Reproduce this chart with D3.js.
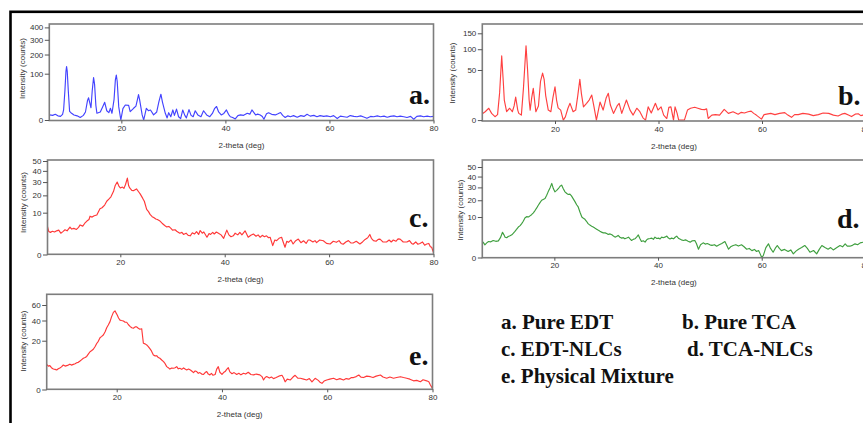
<!DOCTYPE html>
<html>
<head>
<meta charset="utf-8">
<title>XRD patterns</title>
<style>
  body { margin: 0; background: #fff; }
  svg { display: block; }
  .tick text { font-family: "Liberation Sans", Arial, sans-serif; font-size: 8px; fill: #333; }
  .axis-title { font-family: "Liberation Sans", Arial, sans-serif; font-size: 8px; fill: #333; }
  .letter { font-family: "Liberation Serif", "Times New Roman", serif; font-weight: bold; font-size: 28px; fill: #111; }
  .legend { font-family: "Liberation Serif", "Times New Roman", serif; font-weight: bold; font-size: 21px; fill: #111; }
</style>
</head>
<body>
<div id="chart"></div>
<script src="https://d3js.org/d3.v7.min.js"></script>
<script>

// ---- data: [2-theta (deg), intensity (counts)] ----
const xTicks = [20, 40, 60, 80];
const yTicksA = [0, 100, 200, 300, 400];
const yTicksB = [0, 50, 100, 150];
const yTicksC = [0, 10, 20, 30, 40, 50];
const yTicksD = [0, 10, 20, 30, 40, 50];
const yTicksE = [0, 20, 40, 60];

const pureEDT = [
  [6.2,1.2],[6.8,1.0],[7.3,1.5],[7.8,0.8],[8.3,0.6],[8.7,1.5],[8.9,4.7],[9.15,40],[9.35,110],[9.47,133],
  [9.6,110],[9.8,40],[10.05,3.5],[10.3,2.5],[10.5,2.0],[10.9,1.2],[11.5,0.8],[12.1,0.3],[12.7,1.0],[13.1,3],
  [13.5,18],[13.7,23],[13.9,15],[14.16,7],[14.4,40],[14.66,84],[14.85,60],[15.1,10],[15.3,2.1],[15.95,3],
  [16.4,8],[16.8,14.6],[17.2,4],[17.6,2.5],[17.9,6.4],[18.2,2.1],[18.6,20],[18.85,75],[19.03,94],[19.2,70],
  [19.5,8],[19.9,0],[20.3,6],[20.76,10.5],[21.4,10],[21.7,3.2],[22.35,6.4],[22.8,9],[23.1,20],[23.3,30],
  [23.5,20],[24.0,1.2],[24.3,0],[24.8,6.4],[25.2,4],[25.6,4.7],[26.2,1.2],[26.8,3],[27.2,15],[27.6,31],
  [27.9,15],[28.45,2.1],[28.8,0.2],[29.1,2.5],[29.5,0.5],[29.9,4.7],[30.2,1],[30.6,5.5],[31.0,0.5],[31.4,0.1],
  [31.8,4.7],[32.2,1],[32.5,0.2],[33.0,5],[33.4,1],[33.8,0.5],[34.2,4],[34.7,1.2],[35.3,0.5],[35.8,4],
  [36.4,1.2],[37.0,0.5],[37.5,2],[37.9,6],[38.3,8.5],[38.7,3],[39.2,1.2],[39.7,2],[40.2,4.7],[40.6,1.5],
  [40.95,0.5],[41.4,0.3],[41.9,0.05],[42.4,0.9],[42.9,1.2],[43.5,1.0],[44.2,2.1],[44.7,1.6],[45.1,4.7],[45.8,1.2],
  [46.2,1.6],[46.7,1.2],[47.1,0.6],[47.4,0.03],[47.9,1.8],[48.3,2.4],[48.9,1.5],[49.6,1.2],[50.1,1.8],[50.6,2.6],
  [51.0,1.0],[51.5,0.3],[52.0,0.8],[52.5,0.5],[53.1,0.9],[53.8,0.35],[54.5,0.9],[55.1,0.6],[55.7,1.5],[56.3,0.7],
  [57.0,1.0],[57.6,0.5],[58.2,0.9],[58.9,0.6],[59.5,0.8],[60.2,0.5],[60.8,0.9],[61.5,0.1],[62.1,0.7],[62.8,0.5],
  [63.4,0.35],[64.0,0.9],[64.7,0.6],[65.3,0.5],[66.0,0.8],[66.6,0.4],[67.2,0.13],[67.9,0.6],[68.5,0.5],[69.2,0.8],
  [69.8,0.5],[70.5,0.7],[71.1,0.35],[71.7,0.6],[72.4,0.8],[73.0,0.5],[73.6,0.7],[74.3,0.5],[74.9,0.3],[75.6,0.6],
  [76.2,0.03],[76.8,0.6],[77.5,0.8],[78.1,0.5],[78.8,0.7],[79.4,0.5],[80.0,0.6]
];

const pureTCA = [
  [5.96,0.8],[6.5,1.4],[7.2,2.8],[7.75,0.9],[8.4,0.23],[8.9,0.6],[9.3,15],[9.7,82],[10.0,30],[10.2,8],
  [10.65,1.4],[11.24,2.8],[11.75,1.4],[12.1,4],[12.4,10.5],[12.8,2],[13.0,0.9],[13.5,0.5],[13.9,20],[14.4,110],
  [14.7,50],[15.0,8],[15.2,2],[15.5,10],[15.8,20],[16.1,6],[16.3,1.4],[16.8,4],[17.2,30],[17.6,44],
  [17.9,33],[18.2,12],[18.7,2.0],[19.2,1.4],[19.6,10],[20.0,22],[20.3,8],[20.6,3],[21.1,2],[21.6,0],
  [22.0,0.2],[22.5,2.8],[22.9,5.6],[23.5,1.4],[24.0,2],[24.4,12],[24.8,33],[25.1,14],[25.5,3.5],[26.1,5.6],
  [26.6,8],[27.1,12.5],[27.5,4],[28.0,0],[28.7,6.5],[29.3,2.0],[29.9,10],[30.3,14.3],[30.7,4.5],[31.3,0.9],
  [32.0,4],[32.4,5.6],[32.9,0.9],[33.4,4],[33.8,8],[34.5,2],[35.1,0.5],[35.8,2.8],[36.4,1.4],[37.0,0.1],
  [37.5,0],[38.0,3.5],[38.6,1],[39.4,5.6],[39.9,2.0],[40.5,3.5],[41.0,0.5],[41.6,0.05],[42.0,3.2],[42.4,3.5],
  [42.9,0],[43.2,3.5],[43.6,0.9],[43.9,0],[45.0,0],[45.6,2.0],[46.2,2.8],[47.0,3.3],[47.6,2.8],[48.3,2.3],
  [48.9,2.2],[49.3,2.5],[49.6,0.05],[50.3,0.5],[51.0,0.6],[51.8,0.5],[52.7,2.3],[53.5,0.9],[54.4,1.4],[55.4,0.7],
  [56.0,1.2],[56.6,1.0],[57.3,1.4],[57.9,1.6],[58.4,0.9],[58.9,0.5],[59.9,0.02],[60.4,0.6],[60.9,0.7],[61.7,0.9],
  [62.5,0.6],[63.4,0.9],[64.4,1.1],[65.0,0.5],[65.7,0.15],[66.3,0.6],[67.0,0.6],[67.9,0.9],[69.0,0.7],[69.9,0.4],
  [70.9,0.6],[71.8,1.0],[72.9,0.9],[73.8,0.5],[74.7,0.33],[75.4,0.7],[76.0,0.9],[76.7,0.5],[77.3,0.25],[78.0,0.7],
  [78.6,0.8],[79.1,0.4],[79.5,0.5],[80.0,0.6]
];

const edtNLC = [
  [6.05,4.4],[6.3,3.0],[6.6,2.8],[7.0,3.1],[7.4,2.9],[7.8,3.2],[8.2,3.4],[8.6,2.6],[9.0,3.0],[9.4,3.5],
  [9.8,3.2],[10.35,4.3],[10.7,3.7],[11.1,3.9],[11.6,3.6],[12.0,4.2],[12.3,5.0],[12.8,4.6],[13.2,5.6],[13.6,6.4],
  [14.0,7.0],[14.2,8.4],[14.6,8.0],[15.0,8.6],[15.5,8.9],[16.1,12],[16.5,12.5],[17.0,14],[17.4,16.2],[17.8,17.5],
  [18.2,19],[18.7,22.8],[19.0,27],[19.4,30],[19.7,27],[20.0,25.3],[20.4,26],[20.7,25],[21.0,28],[21.35,33.4],
  [21.6,27],[21.8,25.3],[22.2,23.5],[22.5,23.3],[23.1,24.6],[23.5,22.5],[23.8,21],[24.3,18],[24.6,16.2],[25.05,11.6],
  [25.4,10.5],[25.7,9.2],[26.1,8.2],[26.4,7.8],[26.8,7.2],[27.1,7.0],[27.6,6.4],[28.0,5.6],[28.5,4.8],[28.9,4.35],
  [29.3,4.5],[29.7,3.9],[30.0,3.4],[30.5,3.5],[30.8,3.1],[31.4,2.6],[31.8,2.8],[32.1,2.3],[32.6,2.6],[33.0,2.1],
  [33.4,2.0],[33.8,2.7],[34.2,2.4],[34.6,3.0],[35.0,2.3],[35.3,3.3],[35.7,2.6],[36.0,2.9],[36.6,1.7],[37.0,2.5],
  [37.3,2.3],[37.7,2.8],[38.0,2.4],[38.4,2.9],[38.8,2.6],[39.3,2.2],[39.8,1.5],[40.4,3.4],[40.8,2.2],[41.2,1.8],
  [41.65,2.0],[42.0,2.6],[42.5,2.2],[42.9,2.8],[43.3,2.2],[43.9,3.2],[44.5,1.7],[45.0,2.1],[45.5,2.4],[46.0,1.9],
  [46.4,2.2],[46.8,1.7],[47.2,2.1],[47.6,1.8],[48.0,2.0],[48.4,1.6],[48.7,1.7],[49.2,0.45],[49.6,1.2],[49.95,1.1],
  [50.4,1.5],[50.9,1.7],[51.2,0.9],[51.55,0.3],[51.9,1.0],[52.2,0.85],[52.7,1.2],[53.1,0.63],[53.6,1.1],[54.1,1.36],
  [54.6,0.8],[55.1,1.08],[55.6,0.7],[56.0,1.2],[56.3,1.2],[56.9,0.9],[57.3,1.1],[57.6,0.8],[58.2,1.2],[58.9,1.08],
  [59.5,0.7],[60.2,0.63],[60.8,1.0],[61.4,0.85],[61.9,1.1],[62.3,0.7],[62.7,0.6],[63.2,0.9],[63.7,1.1],[64.2,0.75],
  [64.6,0.75],[65.2,1.0],[65.9,0.63],[66.4,0.9],[66.9,1.3],[67.4,1.6],[67.8,2.3],[68.1,1.5],[68.5,1.1],[69.0,1.0],
  [69.4,1.3],[69.75,1.36],[70.3,0.9],[71.0,0.9],[71.5,1.2],[71.9,0.9],[72.3,1.2],[72.8,1.0],[73.2,1.4],[73.6,1.36],
  [74.2,0.9],[74.9,0.9],[75.4,1.1],[75.8,0.7],[76.1,0.6],[76.6,0.9],[77.0,0.6],[77.4,0.7],[77.9,0.9],[78.3,0.5],
  [78.7,0.63],[79.1,0.7],[79.4,0.35],[79.65,0.3],[80.0,0.02]
];

const tcaNLC = [
  [6.1,1.6],[6.35,1.3],[6.6,0.98],[6.95,1.3],[7.3,1.56],[7.75,1.5],[8.2,1.77],[8.7,1.6],[9.2,1.7],[9.6,2.4],
  [10.0,3.9],[10.25,3.2],[10.5,2.5],[10.8,2.4],[11.1,2.7],[11.45,2.9],[11.8,3.15],[12.1,3.6],[12.4,4.15],[12.7,4.8],
  [13.05,5.66],[13.4,6.2],[13.7,7.0],[14.0,8.0],[14.35,9.7],[14.7,10.2],[15.0,10],[15.3,10.6],[15.6,11.2],[15.95,12.2],
  [16.3,13.6],[16.6,15.0],[16.9,16.7],[17.2,18.2],[17.55,20],[17.85,20.6],[18.2,21.2],[18.5,23.5],[18.8,26.3],[19.2,30],
  [19.5,33.5],[19.8,29],[20.1,26.3],[20.45,27.5],[20.8,29.1],[21.1,31],[21.4,32],[21.7,29],[22.05,26.3],[22.4,25],
  [22.7,24.2],[23.0,24.5],[23.3,23.2],[23.65,21],[24.0,18.9],[24.3,17],[24.6,15.6],[24.95,12.5],[25.3,10],[25.6,9.4],
  [25.9,8.9],[26.2,8.0],[26.5,7.0],[26.85,6.4],[27.2,6.0],[27.5,5.7],[27.8,5.3],[28.15,4.9],[28.5,4.5],[28.8,4.2],
  [29.1,3.93],[29.45,3.7],[29.8,3.7],[30.1,3.5],[30.4,3.25],[30.75,3.4],[31.1,3.15],[31.4,2.8],[31.7,2.53],[32.0,2.7],
  [32.3,2.97],[32.65,2.5],[33.0,2.29],[33.3,2.4],[33.6,2.13],[33.95,2.3],[34.3,2.53],[34.6,2.1],[34.9,1.77],[35.2,2.0],
  [35.55,2.13],[35.9,2.6],[36.2,3.1],[36.5,2.2],[36.8,1.56],[37.15,1.7],[37.5,1.44],[37.8,1.9],[38.1,2.13],[38.45,2.2],
  [38.8,2.29],[39.1,2.0],[39.4,2.53],[39.75,2.2],[40.1,2.29],[40.4,2.1],[40.7,2.53],[41.0,2.4],[41.3,2.53],[41.7,2.79],
  [42.0,2.3],[42.3,2.1],[42.6,2.29],[43.0,2.13],[43.3,2.5],[43.6,2.79],[44.0,2.2],[44.5,1.9],[44.9,1.77],[45.3,1.9],
  [45.8,1.6],[46.2,1.44],[46.6,1.7],[47.1,1.77],[47.4,1.2],[47.8,0.42],[48.2,1.0],[48.7,1.31],[49.1,1.1],[49.5,1.2],
  [50.0,0.98],[50.4,0.9],[50.9,1.0],[51.3,0.78],[51.8,1.0],[52.3,1.2],[52.9,1.56],[53.2,1.0],[53.6,0.42],[54.0,0.7],
  [54.5,0.88],[55.0,1.0],[55.5,0.8],[56.1,0.98],[56.6,0.7],[57.1,0.42],[57.6,0.5],[58.1,0.29],[58.6,0.4],[59.0,0.22],
  [59.4,0.3],[59.7,0.08],[60.0,0.0],[60.3,0.02],[60.8,0.6],[61.3,1.14],[61.7,0.5],[62.2,0.17],[62.6,0.5],[63.0,0.88],
  [63.4,0.5],[63.8,0.29],[64.4,0.4],[65.1,0.22],[65.6,0.35],[66.1,0.08],[66.6,0.25],[67.1,0.42],[67.7,0.6],[68.3,0.88],
  [68.8,0.5],[69.3,0.17],[70.0,0.3],[70.6,0.08],[71.1,0.4],[71.6,0.88],[72.2,0.6],[72.8,0.42],[73.3,0.6],[73.8,0.35],
  [74.5,0.6],[75.1,0.88],[75.6,0.7],[76.1,1.14],[76.5,0.8],[77.0,0.78],[77.5,0.9],[78.0,1.14],[78.5,1.0],[79.0,1.31],
  [79.6,1.44],[80.0,1.2]
];

const physicalMix = [
  [6.69,5.3],[7.0,4.6],[7.3,4.8],[7.6,4.0],[7.96,3.55],[8.3,3.4],[8.6,3.2],[8.9,3.6],[9.2,3.9],[9.5,4.3],
  [9.86,5.05],[10.2,4.6],[10.5,4.8],[10.8,5.0],[11.1,5.4],[11.4,5.0],[11.76,5.3],[12.1,5.6],[12.4,6.0],[12.7,6.2],
  [13.03,6.8],[13.3,7.4],[13.66,8.2],[14.0,8.6],[14.3,9.2],[14.6,10.5],[14.93,12.0],[15.2,12.6],[15.56,13.6],[15.9,15.5],
  [16.2,17.8],[16.5,19.5],[16.83,22.5],[17.1,23.5],[17.46,25],[17.8,28],[18.1,32],[18.4,35],[18.73,38.7],[19.0,44],
  [19.37,50],[19.68,52],[19.9,49],[20.1,46.7],[20.35,43],[20.63,40.5],[20.9,40],[21.27,39.5],[21.6,38],[21.9,38],
  [22.2,35.5],[22.53,33.5],[22.85,32],[23.17,31.5],[23.5,33],[23.8,33],[24.1,31.5],[24.4,30.5],[24.75,31],[25.07,18],
  [25.4,17.5],[25.7,16.7],[26.0,15.5],[26.3,14],[26.6,12.5],[26.97,10],[27.3,9.5],[27.6,9.6],[27.9,8.6],[28.2,8.2],
  [28.55,7.3],[28.9,6.5],[29.2,5.6],[29.5,4.4],[29.8,4.0],[30.1,3.5],[30.45,3.9],[30.8,3.8],[31.1,4.0],[31.4,4.4],
  [31.7,3.6],[32.0,3.8],[32.35,3.4],[32.7,3.9],[33.0,3.5],[33.3,3.2],[33.65,3.5],[34.0,3.2],[34.3,2.8],[34.6,2.4],
  [34.9,2.9],[35.2,2.7],[35.5,2.2],[35.8,2.4],[36.15,2.0],[36.5,1.9],[36.8,2.4],[37.1,2.7],[37.4,2.0],[37.7,1.8],
  [38.0,2.2],[38.3,1.7],[38.7,1.9],[39.0,3.5],[39.3,4.4],[39.6,2.5],[40.0,1.9],[40.3,2.4],[40.6,2.7],[40.9,3.4],
  [41.2,4.0],[41.5,2.6],[41.9,2.1],[42.3,2.4],[42.8,1.9],[43.2,2.2],[43.6,1.8],[44.1,2.2],[44.5,2.0],[45.0,2.5],
  [45.5,1.9],[46.0,1.8],[46.5,2.0],[47.2,1.8],[47.6,1.4],[47.9,0.76],[48.2,1.2],[48.5,1.4],[49.0,1.1],[49.4,1.3],
  [49.8,1.0],[50.3,1.2],[50.8,1.5],[51.4,1.7],[51.7,1.1],[52.0,0.5],[52.4,0.9],[53.0,0.76],[53.5,1.3],[53.9,1.7],
  [54.4,1.1],[54.9,1.06],[55.5,0.9],[56.1,0.76],[56.6,1.0],[57.1,0.5],[57.7,1.06],[58.3,0.7],[58.7,0.4],[59.0,0.32],
  [59.4,0.6],[59.9,0.76],[60.5,0.9],[61.2,1.06],[61.8,0.8],[62.4,1.0],[63.1,0.76],[63.6,1.0],[64.1,0.9],[64.6,1.2],
  [65.0,1.2],[65.5,1.4],[66.0,1.77],[66.4,1.3],[66.9,1.2],[67.5,1.5],[68.2,1.38],[68.7,1.2],[69.3,1.5],[70.1,1.77],
  [70.6,1.3],[71.3,1.06],[71.9,1.3],[72.6,1.06],[73.2,1.2],[73.9,1.38],[74.5,1.2],[75.1,1.06],[75.7,0.9],[76.4,0.63],
  [77.0,0.7],[77.7,0.51],[78.2,0.8],[78.9,0.63],[79.3,0.5],[79.6,0.17],[80.0,0.01]
];

const panelLetters = ['a.', 'b.', 'c.', 'd.', 'e.'];
const legendLabels = ['a. Pure EDT', 'b. Pure TCA', 'c. EDT-NLCs', 'd. TCA-NLCs', 'e. Physical Mixture'];
const xTitle = '2-theta (deg)';
const yTitle = 'Intensity (counts)';

// ---- layout ----
const W = 863, H = 423;
const panels = [
  { data: pureEDT, yTicks: yTicksA, color: '#4343ff', x0: 6.15, left: 49.3, right: 433.5, top: 24, bottom: 120.5,
    yZero: 120, yTop: 27.4, yTitleX: 21.7, yTitleY: 68.5, letterX: 409, letterY: 104 },
  { data: pureTCA, yTicks: yTicksB, color: '#ff4040', x0: 5.95, left: 482.3, right: 865.5, top: 24, bottom: 121,
    yZero: 120.1, yTop: 33.3, yTitleX: 451.7, yTitleY: 73, letterX: 838, letterY: 105 },
  { data: edtNLC, yTicks: yTicksC, color: '#ff3838', x0: 6.05, left: 47.5, right: 433.5, top: 160, bottom: 254.3,
    yZero: 254.5, yTop: 161, yTitleX: 23.3, yTitleY: 202.5, letterX: 409, letterY: 227 },
  { data: tcaNLC, yTicks: yTicksD, color: '#3f9f3f', x0: 6.1, left: 482.3, right: 865.4, top: 160, bottom: 257.7,
    yZero: 257.5, yTop: 167, yTitleX: 460, yTitleY: 210, letterX: 837, letterY: 228 },
  { data: physicalMix, yTicks: yTicksE, color: '#ff3838', x0: 6.7, left: 46.7, right: 432.5, top: 294.3, bottom: 389.3,
    yZero: 389.5, yTop: 305, yTitleX: 23.3, yTitleY: 341, letterX: 409, letterY: 365 }
];
const legendPos = [[501, 329], [682, 329], [501, 356], [687, 356], [501, 383]];

const svg = d3.select('#chart')
  .append('svg')
  .attr('width', W)
  .attr('height', H);

// black outer border, only its top and left sides fall inside the picture
svg.append('rect')
  .attr('x', 10.5).attr('y', 11.8)
  .attr('width', 1000).attr('height', 600)
  .attr('fill', 'none')
  .attr('stroke', '#000')
  .attr('stroke-width', 2.6);

panels.forEach((p, i) => {
  const x = d3.scaleLinear().domain([p.x0, 80]).range([p.left, p.right]);
  const y = d3.scaleSqrt().domain([0, p.yTicks[p.yTicks.length - 1]]).range([p.yZero, p.yTop]);
  const g = svg.append('g');

  g.append('clipPath').attr('id', 'clip' + i)
    .append('rect')
    .attr('x', p.left).attr('y', p.top)
    .attr('width', p.right - p.left).attr('height', p.bottom - p.top);

  const line = d3.line().x(d => x(d[0])).y(d => y(d[1]));
  g.append('path')
    .datum(p.data)
    .attr('clip-path', `url(#clip${i})`)
    .attr('fill', 'none')
    .attr('stroke', p.color)
    .attr('stroke-width', 1.15)
    .attr('stroke-linejoin', 'round')
    .attr('d', line);

  // plot frame
  g.append('rect')
    .attr('x', p.left).attr('y', p.top)
    .attr('width', p.right - p.left).attr('height', p.bottom - p.top)
    .attr('fill', 'none')
    .attr('stroke', '#7d7d7d')
    .attr('stroke-width', 1.6);

  g.append('g')
    .attr('transform', `translate(0,${p.bottom})`)
    .attr('color', '#555')
    .call(d3.axisBottom(x).tickValues(xTicks).tickSize(3).tickSizeOuter(0).tickPadding(2))
    .call(a => a.select('.domain').remove());

  g.append('g')
    .attr('transform', `translate(${p.left},0)`)
    .attr('color', '#555')
    .call(d3.axisLeft(y).tickValues(p.yTicks).tickSize(4.5).tickSizeOuter(0).tickPadding(1.5))
    .call(a => a.select('.domain').remove());

  g.append('text')
    .attr('class', 'axis-title')
    .attr('x', (p.left + p.right) / 2)
    .attr('y', p.bottom + 27.5)
    .attr('text-anchor', 'middle')
    .text(xTitle);

  g.append('text')
    .attr('class', 'axis-title')
    .attr('transform', `translate(${p.yTitleX},${p.yTitleY}) rotate(-90)`)
    .attr('text-anchor', 'middle')
    .attr('dy', '0.35em')
    .text(yTitle);

  g.append('text')
    .attr('class', 'letter')
    .attr('x', p.letterX)
    .attr('y', p.letterY)
    .text(panelLetters[i]);
});

svg.append('g')
  .selectAll('text')
  .data(legendLabels)
  .join('text')
  .attr('class', 'legend')
  .attr('x', (d, i) => legendPos[i][0])
  .attr('y', (d, i) => legendPos[i][1])
  .text(d => d);

</script>
</body>
</html>
